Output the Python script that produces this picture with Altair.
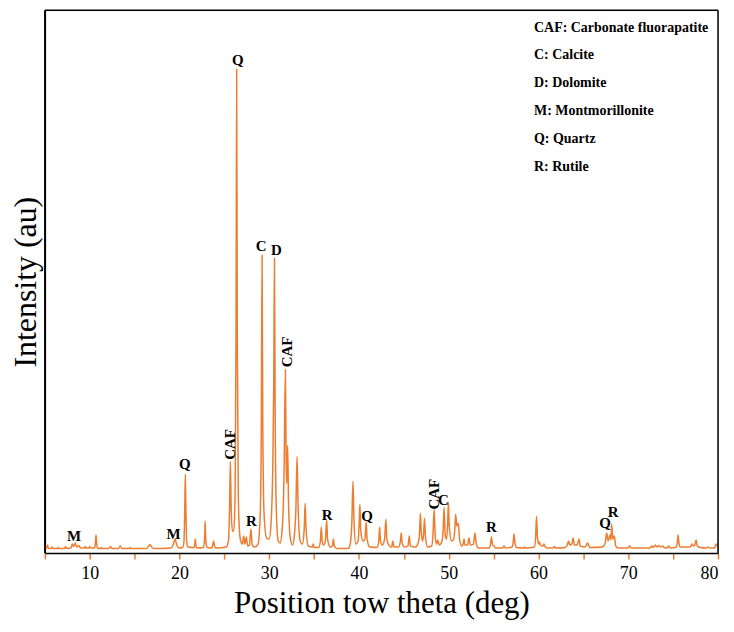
import altair as alt
import pandas as pd

# XRD profile (2-theta in degrees, intensity in arbitrary units)
two_theta = [
    5.0, 5.2, 5.3, 5.4, 5.7, 5.8, 5.9, 6.4, 6.5, 6.6, 7.2, 7.3, 7.4, 7.9, 8.05, 8.2, 8.4, 8.55, 8.8, 8.95,
    9.4, 9.5, 9.6, 9.9, 10.0, 10.1, 10.55, 10.62, 10.7, 10.78, 10.85, 11.2, 11.3, 11.4, 12.1, 12.3, 12.5,
    13.2, 13.4, 13.6, 14.4, 14.5, 14.6, 16.3, 16.5, 16.7, 16.9, 17.1, 19.0, 19.3, 19.5, 19.7, 19.95,
    20.35, 20.5, 20.58, 20.65, 20.72, 20.8, 20.95, 21.6, 21.7, 21.76, 21.82, 21.95, 22.65, 22.76, 22.82,
    22.86, 22.9, 22.96, 23.1, 23.6, 23.7, 23.8, 23.9, 24.05, 25.2, 25.45, 25.58, 25.67, 25.76, 25.9,
    26.05, 26.2, 26.3, 26.37, 26.44, 26.55, 26.7, 26.85, 27.0, 27.15, 27.28, 27.45, 27.6, 27.8, 27.96,
    28.1, 28.4, 28.75, 29.0, 29.12, 29.2, 29.28, 29.42, 29.7, 30.0, 30.2, 30.4, 30.5, 30.58, 30.66, 30.8,
    31.0, 31.2, 31.45, 31.65, 31.8, 31.88, 31.95, 32.05, 32.15, 32.35, 32.6, 32.8, 32.97, 33.1, 33.22,
    33.45, 33.7, 33.9, 34.0, 34.1, 34.35, 34.8, 34.9, 35.0, 35.5, 35.7, 35.8, 35.9, 36.05, 36.25, 36.4,
    36.5, 36.8, 37.05, 37.15, 37.25, 37.5, 38.8, 39.0, 39.2, 39.33, 39.45, 39.65, 39.9, 40.02, 40.1,
    40.2, 40.45, 40.65, 40.8, 40.9, 41.2, 42.0, 42.2, 42.3, 42.4, 42.6, 42.85, 43.0, 43.1, 43.4, 43.65,
    43.76, 43.9, 44.4, 44.6, 44.7, 44.8, 45.05, 45.45, 45.6, 45.72, 46.3, 46.65, 46.75, 46.84, 46.94,
    47.1, 47.2, 47.3, 47.4, 47.65, 48.1, 48.25, 48.37, 48.5, 48.65, 48.77, 48.95, 49.25, 49.38, 49.48,
    49.6, 49.75, 49.88, 49.96, 50.05, 50.3, 50.55, 50.68, 50.77, 50.9, 51.07, 51.2, 51.45, 51.6, 51.7,
    51.8, 52.1, 52.25, 52.4, 52.75, 52.92, 53.05, 53.3, 54.5, 54.65, 54.76, 54.88, 55.05, 55.2, 56.0,
    56.16, 56.3, 57.05, 57.18, 57.27, 57.38, 57.55, 58.35, 58.45, 58.55, 59.55, 59.68, 59.78, 59.88,
    60.0, 60.1, 60.22, 60.5, 60.6, 60.75, 61.0, 61.65, 61.78, 61.9, 63.0, 63.2, 63.35, 63.5, 63.7, 63.85,
    64.0, 64.3, 64.51, 64.65, 65.2, 65.47, 65.7, 67.1, 67.4, 67.6, 67.75, 67.95, 68.07, 68.15, 68.28,
    68.45, 68.6, 68.9, 69.95, 70.15, 70.35, 72.4, 72.66, 72.8, 73.0, 73.2, 73.4, 73.6, 73.8, 74.0, 74.3,
    74.5, 74.7, 75.35, 75.47, 75.55, 75.65, 75.8, 76.9, 77.1, 77.25, 77.4, 77.55, 77.7, 78.0, 78.7, 78.9,
    79.1, 79.6, 79.8, 80.0,
]
intensity = [
    5, 5, 8, 4.5, 4.5, 6, 4.5, 4.5, 5.5, 4.5, 4.5, 6.5, 4.8, 5, 9, 6.5, 10, 6, 7.5, 5,
    5, 6.5, 5, 5, 6.5, 5, 5, 9, 18, 9, 5, 4.5, 5.5, 4.5, 4.5, 6.5, 4.5,
    4.5, 7, 4.5, 4.5, 5.5, 4.5, 4.5, 6, 8.5, 6, 4.5, 5, 8, 14, 8, 5,
    5.5, 12, 40, 79, 40, 12, 6, 5.5, 8, 14, 8, 5, 5.5, 10, 20,
    32, 20, 10, 5.5, 5, 8, 12, 7, 5, 6, 12, 45, 92, 45, 22,
    22, 60, 220, 486, 220, 60, 20, 11, 9, 17, 9, 16, 7, 8, 24,
    8, 6, 9, 40, 130, 299, 130, 40, 15, 14, 30, 90, 170, 296, 140, 40,
    12, 10, 25, 80, 184, 95, 70, 108, 50, 15, 8, 18, 45, 97, 45,
    12, 9, 25, 50, 25, 7, 6, 9, 5.5, 5.5, 12, 26, 12, 8, 12, 33,
    14, 6, 7, 14, 7, 4.5, 4.5, 8, 30, 72, 30, 9, 12, 30, 49,
    22, 12, 14, 31, 14, 6, 5.5, 12, 26, 12, 8, 14, 34, 14, 7, 6,
    12, 6, 6, 11, 20, 11, 6, 7, 17, 7, 6, 12, 22, 40, 20,
    12, 20, 35, 16, 6, 7, 20, 44, 16, 9, 13, 8, 12, 25, 46,
    18, 14, 30, 51, 28, 12, 14, 25, 39, 27, 30, 14, 7, 9, 14,
    8, 8, 15, 8, 9, 20, 10, 5, 5, 9, 16, 8, 7, 5, 5,
    7, 5, 6, 11, 19, 10, 5.5, 5, 6, 5, 6, 16, 37, 16,
    9, 11, 8, 7, 9, 6, 5, 5, 6.5, 5, 5.5, 8, 12, 8, 9, 15,
    8, 8, 14, 7, 6, 10, 5.5, 6, 9, 20, 12, 18, 13, 29, 14,
    17, 7, 5, 5, 7, 5, 5, 7, 5.5, 8, 6, 7.5, 6, 7, 5.5, 5,
    7, 5, 6, 11, 18, 10, 6, 6, 9, 7, 8, 13, 7, 5.5, 5, 6,
    5, 5, 9, 6,
]

# Peak labels (horizontal)
label_text = ["M", "M", "Q", "Q", "R", "C", "D", "R", "Q", "C", "R", "Q", "R"]
label_x = [8.25, 19.35, 20.6, 26.5, 28.0, 29.1, 30.8, 36.45, 40.9, 49.4, 54.76, 67.4, 68.3]
label_y = [17, 19, 89, 495, 32, 308, 304, 38, 37, 53, 26, 30, 41]

# Peak labels (rotated)
rot_text = ["CAF", "CAF", "CAF"]
rot_x = [25.6, 32.0, 48.35]
rot_y = [109, 202, 59]

# Phase key
key_text = [
    "CAF: Carbonate fluorapatite",
    "C: Calcite",
    "D: Dolomite",
    "M:  Montmorillonite",
    "Q: Quartz",
    "R: Rutile",
]
key_x = [59.5] * 6
key_y = [527, 500, 472, 444, 416, 388]

# Plot frame edges (left, right, top) in data units
frame_x = [5, 80, 5]
frame_x2 = [5, 80, 80]
frame_y = [0, 0, 545]
frame_y2 = [545, 545, 545]

ORANGE = "#ED7D31"
FRAME = "black"
SERIF = "Liberation Serif"
W, H = 676, 545

profile = pd.DataFrame({"x": two_theta, "y": intensity})
labels = pd.DataFrame({"t": label_text, "x": label_x, "y": label_y})
rot = pd.DataFrame({"t": rot_text, "x": rot_x, "y": rot_y})
key = pd.DataFrame({"t": key_text, "x": key_x, "y": key_y})
frame_df = pd.DataFrame({"x": frame_x, "x2": frame_x2, "y": frame_y, "y2": frame_y2})

xscale = alt.Scale(domain=[5, 80], nice=False, zero=False)
yscale = alt.Scale(domain=[0, 545], nice=False)

line = alt.Chart(profile).mark_line(color=ORANGE, strokeWidth=1.5, interpolate="monotone").encode(
    x=alt.X(
        "x:Q",
        scale=xscale,
        axis=alt.Axis(
            title="Position tow theta (deg)",
            values=list(range(5, 81, 5)),
            labelExpr="datum.value % 10 == 0 ? datum.label : ''",
            grid=False,
            tickColor=ORANGE,
            tickSize=6,
            tickWidth=1.5,
            domainColor=FRAME,
            domainWidth=1.5,
            labelFont=SERIF,
            labelFontSize=18,
            labelColor="black",
            labelPadding=6,
            titleFont=SERIF,
            titleFontSize=31,
            titleFontWeight="normal",
            titleColor="black",
            titlePadding=6,
        ),
    ),
    y=alt.Y(
        "y:Q",
        scale=yscale,
        axis=alt.Axis(
            title="Intensity (au)",
            labels=False,
            ticks=False,
            domain=True,
            domainColor=FRAME,
            domainWidth=1.5,
            grid=False,
            titleFont=SERIF,
            titleFontSize=32,
            titleFontWeight="normal",
            titleColor="black",
            titlePadding=2,
        ),
    ),
)

frame = alt.Chart(frame_df).mark_rule(color=FRAME, strokeWidth=1.5).encode(
    x=alt.X("x:Q", scale=xscale),
    x2="x2:Q",
    y=alt.Y("y:Q", scale=yscale),
    y2="y2:Q",
)

peak_labels = alt.Chart(labels).mark_text(
    font=SERIF, fontSize=15, fontWeight="bold", color="black", baseline="middle"
).encode(x=alt.X("x:Q", scale=xscale), y=alt.Y("y:Q", scale=yscale), text="t:N")

rot_labels = alt.Chart(rot).mark_text(
    font=SERIF, fontSize=15, fontWeight="bold", color="black", baseline="middle", angle=270
).encode(x=alt.X("x:Q", scale=xscale), y=alt.Y("y:Q", scale=yscale), text="t:N")

key_labels = alt.Chart(key).mark_text(
    font=SERIF, fontSize=14, fontWeight="bold", color="black", baseline="middle", align="left"
).encode(x=alt.X("x:Q", scale=xscale), y=alt.Y("y:Q", scale=yscale), text="t:N")

chart = (
    alt.layer(line, frame, peak_labels, rot_labels, key_labels)
    .properties(
        width=W,
        height=H,
        autosize=alt.AutoSizeParams(type="none"),
        padding={"left": 37, "top": 1, "right": 8, "bottom": 70},
    )
)

chart.save("out.html", embed_options={"renderer": "svg", "actions": False})
